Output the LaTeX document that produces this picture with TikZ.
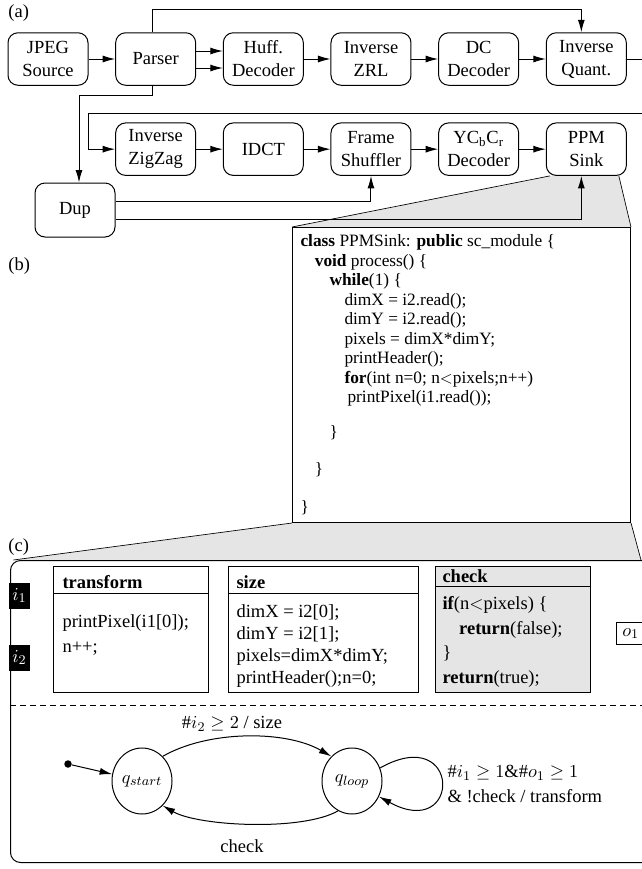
\documentclass[tikz,border=0pt]{standalone}
\usepackage{fontspec}
\setmainfont{Liberation Serif}
\usetikzlibrary{arrows.meta,positioning,shapes.geometric,backgrounds}

\begin{document}
\begin{tikzpicture}[
    x=0.6pt, y=-0.6pt, line width=0.6pt,
    font=\fontsize{11.1}{13.8}\selectfont,
    >={Latex[length=7.5pt,width=4.2pt]},
    node distance=16pt,
    actor/.style={draw, rounded corners=6pt, fill=white, align=center,
        minimum width=48pt, minimum height=31.5pt, inner sep=1pt},
    panel/.style={draw, anchor=north west, minimum height=75.6pt},
    port/.style={fill=black, text=white, anchor=north west, inner sep=0pt,
        minimum width=13.2pt, minimum height=15.6pt},
    fsm/.style={draw, ellipse, minimum width=36pt, minimum height=39.6pt,
        inner sep=0pt},
    zoomed/.style={fill=gray!20},
    codetext/.style={anchor=north west, align=left, inner sep=0pt,
        font=\fontsize{10.4}{11.7}\selectfont},
    lbl/.style={anchor=west, inner sep=0pt},
    ]
    \useasboundingbox (0,0) rectangle (642,869);
    \clip (0,0) rectangle (642,869);

    % (a) the decoder network
    \node[lbl] (lbla) at (8,13) {(a)};
    \node[actor] (src) at (48,59) {JPEG\\Source};
    \node[actor, right=of src] (parse) {Parser};
    \node[actor, right=of parse] (huff) {Huff.\\Decoder};
    \node[actor, right=of huff] (izrl) {Inverse\\ZRL};
    \node[actor, right=of izrl] (dc) {DC\\Decoder};
    \node[actor, right=of dc] (iq) {Inverse\\Quant.};

    \node[actor, below=22pt of parse] (izz) {Inverse\\ZigZag};
    \node[actor, right=of izz] (idct) {IDCT};
    \node[actor, right=of idct] (shuf) {Frame\\Shuffler};
    \node[actor, right=of shuf] (ycc) {YC\textsubscript{b}C\textsubscript{r}\\Decoder};
    \node[actor, right=of ycc] (ppm) {PPM\\Sink};
    \node[actor, minimum height=32.4pt] (dup) at (75,210) {Dup};

    \coordinate (wrap) at (88,113);

    \draw[->] (src) -- (parse);
    \draw[->] ([yshift=4.8pt]parse.east) -- ([yshift=4.8pt]huff.west);
    \draw[->] ([yshift=-5.4pt]parse.east) -- ([yshift=-5.4pt]huff.west);
    \draw[->] (huff) -- (izrl);
    \draw[->] (izrl) -- (dc);
    \draw[->] (dc) -- (iq);
    \draw[->] ([xshift=-1.8pt]parse.north) -- ++(0,-23) -| ([xshift=-3pt]iq.north);
    \draw[->] (iq.east) -- ++(17,0) |- (wrap) |- (izz.west);
    \draw[->] (izz) -- (idct);
    \draw[->] (idct) -- (shuf);
    \draw[->] (shuf) -- (ycc);
    \draw[->] (ycc) -- (ppm);
    \draw[->] ([xshift=-1.8pt]parse.south) -- ++(0,10) -| ([xshift=2.4pt]dup.north);
    \draw[->] ([yshift=5.4pt]dup.east) -| (shuf.south);
    \draw[->] ([yshift=-5.4pt]dup.east) -| ([xshift=-3pt]ppm.south);

    % (b) the sink process
    \node[lbl] (lblb) at (8,266) {(b)};
    \node[draw, fill=white, anchor=north west, minimum width=202.8pt,
        minimum height=177pt] (code) at (292,227) {};
    \node[codetext] (codetxt) at ([xshift=4.8pt,yshift=-4.2pt]code.north west) {%
        \textbf{class} PPMSink: \textbf{public} sc\_module \{\\
        \hspace*{8.6pt}\textbf{void} process() \{\\
        \hspace*{17.4pt}\textbf{while}(1) \{\\
        \hspace*{26.4pt}dimX = i2.read();\\
        \hspace*{26.4pt}dimY = i2.read();\\
        \hspace*{26.4pt}pixels = dimX*dimY;\\
        \hspace*{26.4pt}printHeader();\\
        \hspace*{26.4pt}\textbf{for}(int n=0; n$<$pixels;n++)\\
        \hspace*{28.2pt}printPixel(i1.read());\\[9pt]
        \hspace*{17.4pt}\}\\[11pt]
        \hspace*{8.6pt}\}\\[11pt]
        \}};

    % (c) the actor with its functions and FSM
    \node[lbl] (lblc) at (8,547) {(c)};
    \node[draw, rounded corners=6pt, anchor=north west, minimum width=414pt,
        minimum height=181.2pt] (cbox) at (10,560) {};
    \coordinate (cright) at (641,560);

    \begin{scope}[on background layer]
        \fill[zoomed] ([xshift=2.4pt]ppm.south west) -- ([xshift=-4.8pt]ppm.south east)
            -- (code.north east) -- (code.north west) -- cycle;
        \draw ([xshift=2.4pt]ppm.south west) -- (code.north west);
        \draw ([xshift=-4.8pt]ppm.south east) -- (code.north east);
        \fill[zoomed] (code.south west) -- (code.south east) -- (cright)
            -- ([xshift=2pt]cbox.north west) -- cycle;
        \draw (code.south west) -- ([xshift=2pt]cbox.north west);
        \draw (code.south east) -- (cright);
    \end{scope}

    \node[port] (in1) at (8,582) {$i_1$};
    \node[port] (in2) at (8,644) {$i_2$};
    \node[draw, fill=white, anchor=north west, inner sep=3.5pt] (out1) at (616,622) {$o_1$};

    \node[panel, minimum width=93pt] (tf) at (53,566) {};
    \node[panel, minimum width=114pt] (sz) at (228,566) {};
    \node[panel, minimum width=93pt, zoomed] (ck) at (435,566) {};
    \draw (tf.north west) ++(0,27) -- ++(155,0);
    \draw (sz.north west) ++(0,27) -- ++(190,0);
    \draw (ck.north west) ++(0,20) -- ++(155,0);

    \node[anchor=base west, inner sep=0pt] (tfhead) at ([xshift=5.4pt,yshift=-13.2pt]tf.north west) {\textbf{transform}};
    \node[anchor=base west, inner sep=0pt] (szhead) at ([xshift=4.8pt,yshift=-13.2pt]sz.north west) {\textbf{size}};
    \node[anchor=base west, inner sep=0pt] (ckhead) at ([xshift=4.2pt,yshift=-9.6pt]ck.north west) {\textbf{check}};

    \node[codetext, font=\fontsize{11.1}{15}\selectfont] (tfbody)
        at ([xshift=5.4pt,yshift=-28.8pt]tf.north west)
        {printPixel(i1[0]);\\n++;};
    \node[codetext, font=\fontsize{11.1}{13.3}\selectfont] (szbody)
        at ([xshift=4.8pt,yshift=-22.8pt]sz.north west)
        {dimX = i2[0];\\dimY = i2[1];\\pixels=dimX*dimY;\\printHeader();n=0;};
    \node[codetext, font=\fontsize{11.1}{14.7}\selectfont] (ckbody)
        at ([xshift=4.2pt,yshift=-18pt]ck.north west)
        {\textbf{if}(n$<$pixels) \{\\\hspace*{10pt}\textbf{return}(false);\\\}\\\textbf{return}(true);};

    \draw[dash pattern=on 3.6pt off 2.4pt] (10,705) -- (642,705);

    \node[fsm] (qs) at (142,781) {$q_{start}$};
    \node[fsm] (ql) at (352,781) {$q_{loop}$};
    \node[circle, fill, inner sep=0pt, minimum size=4.5pt] (init) at (68,764) {};

    \draw[->] (init) -- (qs);
    \draw[->] (qs.50) to[out=30,in=150,looseness=0.8] (ql.130);
    \draw[->] (ql.-115) to[out=-150,in=-30,looseness=0.6] (qs.-50);
    \draw[->] (ql.25) .. controls (462,722) and (462,842) .. (ql.-30);

    \node (toplbl) at (232,724) {$\#i_2\geq 2$ / size};
    \node (botlbl) at (242,846) {check};
    \node[lbl, align=left, font=\fontsize{11.1}{15}\selectfont] (looplbl) at (447,784)
        {$\#i_1\geq 1$\&$\#o_1\geq 1$\\\& !check / transform};
\end{tikzpicture}
\end{document}
